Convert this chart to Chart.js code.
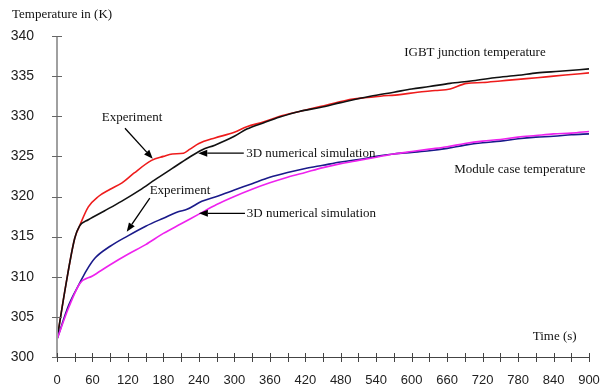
<!DOCTYPE html>
<html>
<head>
<meta charset="utf-8">
<script src="https://cdn.jsdelivr.net/npm/chart.js@4"></script>
<style>
  body { margin: 0; background: #fff; }
  #wrap { width: 601px; height: 389px; }
</style>
</head>
<body>
<div id="wrap"><canvas id="myChart" width="601" height="389"></canvas></div>
<script>
// IGBT junction temperature, experiment (red)
var junctionExpTime = [0, 15, 30, 38, 53, 70, 90, 110, 130, 160, 180, 195, 214, 225, 240, 267, 300, 321, 350, 377, 410, 445, 490, 520, 547, 580, 610, 640, 665, 693, 720, 750, 780, 812, 840, 870, 900];
var junctionExpTemp = [302.2, 309, 314.8, 316.3, 318.7, 320.0, 320.9, 321.7, 322.9, 324.5, 325.0, 325.3, 325.4, 325.9, 326.6, 327.3, 328.0, 328.7, 329.3, 330.0, 330.6, 331.2, 332.0, 332.3, 332.5, 332.7, 333.0, 333.2, 333.4, 334.1, 334.2, 334.4, 334.6, 334.8, 335.0, 335.2, 335.4];

// IGBT junction temperature, 3D simulation (black)
var junctionSimTime = [0, 15, 30, 38, 53, 80, 109, 140, 166, 195, 222, 245, 267, 300, 321, 350, 377, 410, 445, 480, 530, 570, 600, 630, 665, 700, 740, 780, 812, 850, 900];
var junctionSimTemp = [302.2, 309, 314.8, 316.3, 317.1, 318.2, 319.4, 320.8, 322.1, 323.5, 324.8, 325.8, 326.4, 327.5, 328.4, 329.2, 329.9, 330.6, 331.1, 331.7, 332.5, 333.0, 333.4, 333.7, 334.1, 334.4, 334.8, 335.1, 335.4, 335.6, 335.9];

// Module case temperature, experiment (blue)
var caseExpTime = [0, 20, 39, 50, 64, 90, 120, 150, 180, 205, 220, 245, 270, 300, 330, 360, 390, 420, 450, 480, 510, 540, 570, 600, 630, 660, 690, 720, 750, 780, 810, 840, 870, 900];
var caseExpTemp = [302.2, 306.5, 309.3, 310.8, 312.3, 313.8, 315.1, 316.3, 317.3, 318.1, 318.4, 319.4, 320.0, 320.8, 321.6, 322.4, 323.0, 323.5, 323.9, 324.3, 324.6, 325.0, 325.3, 325.5, 325.7, 326.0, 326.4, 326.7, 326.9, 327.2, 327.4, 327.5, 327.7, 327.8];

// Module case temperature, 3D simulation (magenta)
var caseSimTime = [0, 20, 39, 60, 90, 120, 150, 180, 210, 240, 270, 300, 330, 360, 390, 420, 450, 480, 510, 540, 570, 600, 630, 660, 690, 720, 750, 780, 810, 840, 870, 900];
var caseSimTemp = [302.2, 306.2, 309.2, 310.1, 311.5, 312.8, 314.0, 315.4, 316.6, 317.8, 319.0, 320.0, 320.9, 321.7, 322.4, 323.0, 323.6, 324.1, 324.5, 324.9, 325.3, 325.6, 325.9, 326.2, 326.6, 326.9, 327.1, 327.4, 327.6, 327.8, 327.9, 328.1];

var xTicks = [0, 60, 120, 180, 240, 300, 360, 420, 480, 540, 600, 660, 720, 780, 840, 900];
var yTicks = [300, 305, 310, 315, 320, 325, 330, 335, 340];

// text labels placed in data units (time, temperature)
var labels = [
    { text: 'Experiment', t: 127, T: 329.8, align: 'center' },
    { text: '3D numerical simulation', t: 320, T: 325.4, align: 'left' },
    { text: 'Experiment', t: 208, T: 320.8, align: 'center' },
    { text: '3D numerical simulation', t: 321, T: 317.9, align: 'left' },
    { text: 'IGBT junction temperature', t: 707, T: 337.9, align: 'center' },
    { text: 'Module case temperature', t: 783, T: 323.3, align: 'center' },
    { text: 'Time (s)', t: 842, T: 302.5, align: 'center' }
];
// arrows: from (t1,T1) to tip (t2,T2)
var arrows = [
    { t1: 115, T1: 328.5, t2: 162, T2: 324.7 },
    { t1: 316, T1: 325.4, t2: 239, T2: 325.4 },
    { t1: 157, T1: 319.8, t2: 118, T2: 315.6 },
    { t1: 318, T1: 317.9, t2: 240, T2: 317.9 }
];

function pairs(xs, ys) {
    return xs.map(function (x, i) { return { x: x, y: ys[i] }; });
}

var serif = '"Liberation Serif", "Times New Roman", serif';

var decorations = {
    id: 'decorations',
    afterDraw: function (chart) {
        var ctx = chart.ctx;
        var xs = chart.scales.x, ys = chart.scales.y;
        var a = chart.chartArea;
        ctx.save();
        // y axis
        ctx.strokeStyle = '#a0a0a0';
        ctx.lineWidth = 2;
        ctx.beginPath();
        ctx.moveTo(a.left, a.top);
        ctx.lineTo(a.left, a.bottom);
        ctx.stroke();
        ctx.strokeStyle = '#666';
        ctx.lineWidth = 1;
        yTicks.forEach(function (v) {
            var y = Math.round(ys.getPixelForValue(v)) + 0.5;
            ctx.beginPath();
            ctx.moveTo(a.left - 5, y);
            ctx.lineTo(a.left + 5, y);
            ctx.stroke();
        });
        // x axis
        ctx.strokeStyle = '#444';
        ctx.beginPath();
        ctx.moveTo(a.left, a.bottom + 0.5);
        ctx.lineTo(a.right, a.bottom + 0.5);
        ctx.stroke();
        for (var t = 0; t <= 900; t += 30) {
            var x = Math.round(xs.getPixelForValue(t)) + 0.5;
            ctx.beginPath();
            ctx.moveTo(x, a.bottom - 4);
            ctx.lineTo(x, a.bottom + 5);
            ctx.stroke();
        }
        // texts
        ctx.fillStyle = '#111';
        ctx.font = '13px ' + serif;
        ctx.textBaseline = 'middle';
        ctx.textAlign = 'left';
        ctx.fillText('Temperature in (K)', 12, 15);
        labels.forEach(function (l) {
            ctx.textAlign = l.align;
            ctx.fillText(l.text, xs.getPixelForValue(l.t), ys.getPixelForValue(l.T));
        });
        // arrows
        ctx.strokeStyle = '#000';
        ctx.fillStyle = '#000';
        ctx.lineWidth = 1.3;
        arrows.forEach(function (ar) {
            var x1 = xs.getPixelForValue(ar.t1), y1 = ys.getPixelForValue(ar.T1);
            var x2 = xs.getPixelForValue(ar.t2), y2 = ys.getPixelForValue(ar.T2);
            var ang = Math.atan2(y2 - y1, x2 - x1);
            var len = 9, w = 3.5;
            var bx = x2 - len * Math.cos(ang), by = y2 - len * Math.sin(ang);
            ctx.beginPath();
            ctx.moveTo(x1, y1);
            ctx.lineTo(bx, by);
            ctx.stroke();
            ctx.beginPath();
            ctx.moveTo(x2, y2);
            ctx.lineTo(bx + w * Math.sin(ang), by - w * Math.cos(ang));
            ctx.lineTo(bx - w * Math.sin(ang), by + w * Math.cos(ang));
            ctx.closePath();
            ctx.fill();
        });
        ctx.restore();
    }
};

var ctx = document.getElementById('myChart').getContext('2d');
new Chart(ctx, {
    type: 'line',
    data: {
        datasets: [
            { label: 'Case 3D simulation', data: pairs(caseSimTime, caseSimTemp), borderColor: '#ee22ee' },
            { label: 'Case experiment', data: pairs(caseExpTime, caseExpTemp), borderColor: '#1a1a8a' },
            { label: 'Junction 3D simulation', data: pairs(junctionSimTime, junctionSimTemp), borderColor: '#111111' },
            { label: 'Junction experiment', data: pairs(junctionExpTime, junctionExpTemp), borderColor: '#ee1c1c' }
        ]
    },
    options: {
        responsive: false,
        animation: false,
        layout: { padding: { top: 36, right: 12, left: 0, bottom: 0 } },
        elements: {
            point: { radius: 0 },
            line: { borderWidth: 1.6, cubicInterpolationMode: 'monotone' }
        },
        plugins: { legend: { display: false }, tooltip: { enabled: false } },
        scales: {
            x: {
                type: 'linear',
                min: 0,
                max: 900,
                afterFit: function (s) { s.height = 32; s.paddingLeft = 0; s.paddingRight = 0; },
                afterBuildTicks: function (s) { s.ticks = xTicks.map(function (v) { return { value: v }; }); },
                grid: { display: false },
                border: { display: false },
                ticks: {
                    autoSkip: false,
                    maxRotation: 0,
                    padding: 8,
                    color: '#222',
                    font: { family: '"Liberation Sans", Arial, sans-serif', size: 13 }
                }
            },
            y: {
                min: 300,
                max: 340,
                afterFit: function (s) { s.width = 57; s.paddingTop = 0; s.paddingBottom = 0; },
                afterBuildTicks: function (s) { s.ticks = yTicks.map(function (v) { return { value: v }; }); },
                grid: { display: false },
                border: { display: false },
                ticks: {
                    padding: 15,
                    color: '#222',
                    font: { family: '"Liberation Sans", Arial, sans-serif', size: 14 }
                }
            }
        }
    },
    plugins: [decorations]
});
</script>
</body>
</html>
